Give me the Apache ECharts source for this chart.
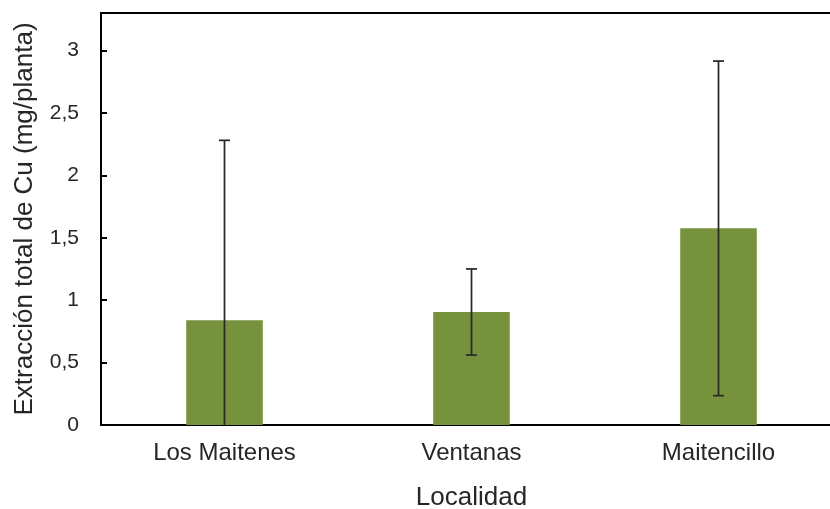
<!DOCTYPE html>
<html>
<head>
<meta charset="utf-8">
<script src="https://cdn.jsdelivr.net/npm/echarts@6/dist/echarts.min.js"></script>
<style>
  html, body { margin: 0; padding: 0; background: #fff; }
  #chart { width: 830px; height: 509px; }
</style>
</head>
<body>
<div id="chart"></div>
<script>
// Copper extraction per plant by locality (mean ± deviation)
const categories = ['Los Maitenes', 'Ventanas', 'Maitencillo'];
const means = [0.84, 0.905, 1.575];
const deviations = [1.44, 0.345, 1.34];
const yTicks = [0, 0.5, 1, 1.5, 2, 2.5, 3];

const FONT = 'Liberation Sans, Arial, sans-serif';
const errorData = categories.map((c, i) => [i, means[i] - deviations[i], means[i] + deviations[i]]);

const chart = echarts.init(document.getElementById('chart'), null, { renderer: 'canvas' });

chart.setOption({
  animation: false,
  backgroundColor: '#ffffff',
  grid: { left: 101, top: 13, right: -12, bottom: 84, containLabel: false, outerBoundsMode: 'none' },
  xAxis: [{
    type: 'category',
    data: categories,
    name: 'Localidad',
    nameLocation: 'middle',
    nameGap: 60,
    nameTextStyle: { fontFamily: FONT, fontSize: 26, color: '#262626' },
    axisLine: { lineStyle: { color: '#000', width: 2 } },
    axisTick: { show: false },
    axisLabel: { fontFamily: FONT, fontSize: 24, color: '#262626', margin: 16 },
    splitLine: { show: false }
  }, {
    type: 'category',
    data: categories,
    position: 'top',
    axisLine: { lineStyle: { color: '#000', width: 2 } },
    axisTick: { show: false },
    axisLabel: { show: false },
    splitLine: { show: false }
  }],
  yAxis: {
    type: 'value',
    min: 0,
    max: 3.3,
    interval: 0.5,
    name: 'Extracción total de Cu (mg/planta)',
    nameLocation: 'middle',
    nameGap: 63,
    nameTextStyle: { fontFamily: FONT, fontSize: 26, color: '#262626' },
    axisLine: { show: true, lineStyle: { color: '#000', width: 2 } },
    axisTick: { show: true, inside: true, length: 6, lineStyle: { color: '#000', width: 2 } },
    axisLabel: {
      fontFamily: FONT, fontSize: 21, color: '#262626', margin: 22,
      showMaxLabel: false,
      formatter: v => yTicks.includes(v) ? String(v).replace('.', ',') : ''
    },
    splitLine: { show: false }
  },
  series: [{
    type: 'bar',
    data: means,
    barWidth: '31%',
    itemStyle: { color: '#77923c' }
  }, {
    type: 'custom',
    data: errorData,
    z: 10,
    renderItem: function (params, api) {
      const x = api.value(0);
      const lowVal = api.value(1);
      const highVal = api.value(2);
      const clipped = lowVal < 0;
      const top = api.coord([x, highVal]);
      const bot = api.coord([x, clipped ? 0 : lowVal]);
      const cap = 5.5;
      const style = { stroke: '#2a2a2a', lineWidth: 1.75 };
      const children = [
        { type: 'line', shape: { x1: top[0], y1: top[1], x2: bot[0], y2: bot[1] }, style },
        { type: 'line', shape: { x1: top[0] - cap, y1: top[1], x2: top[0] + cap, y2: top[1] }, style }
      ];
      if (!clipped) {
        children.push({ type: 'line', shape: { x1: bot[0] - cap, y1: bot[1], x2: bot[0] + cap, y2: bot[1] }, style });
      }
      return { type: 'group', children };
    }
  }]
});
</script>
</body>
</html>
